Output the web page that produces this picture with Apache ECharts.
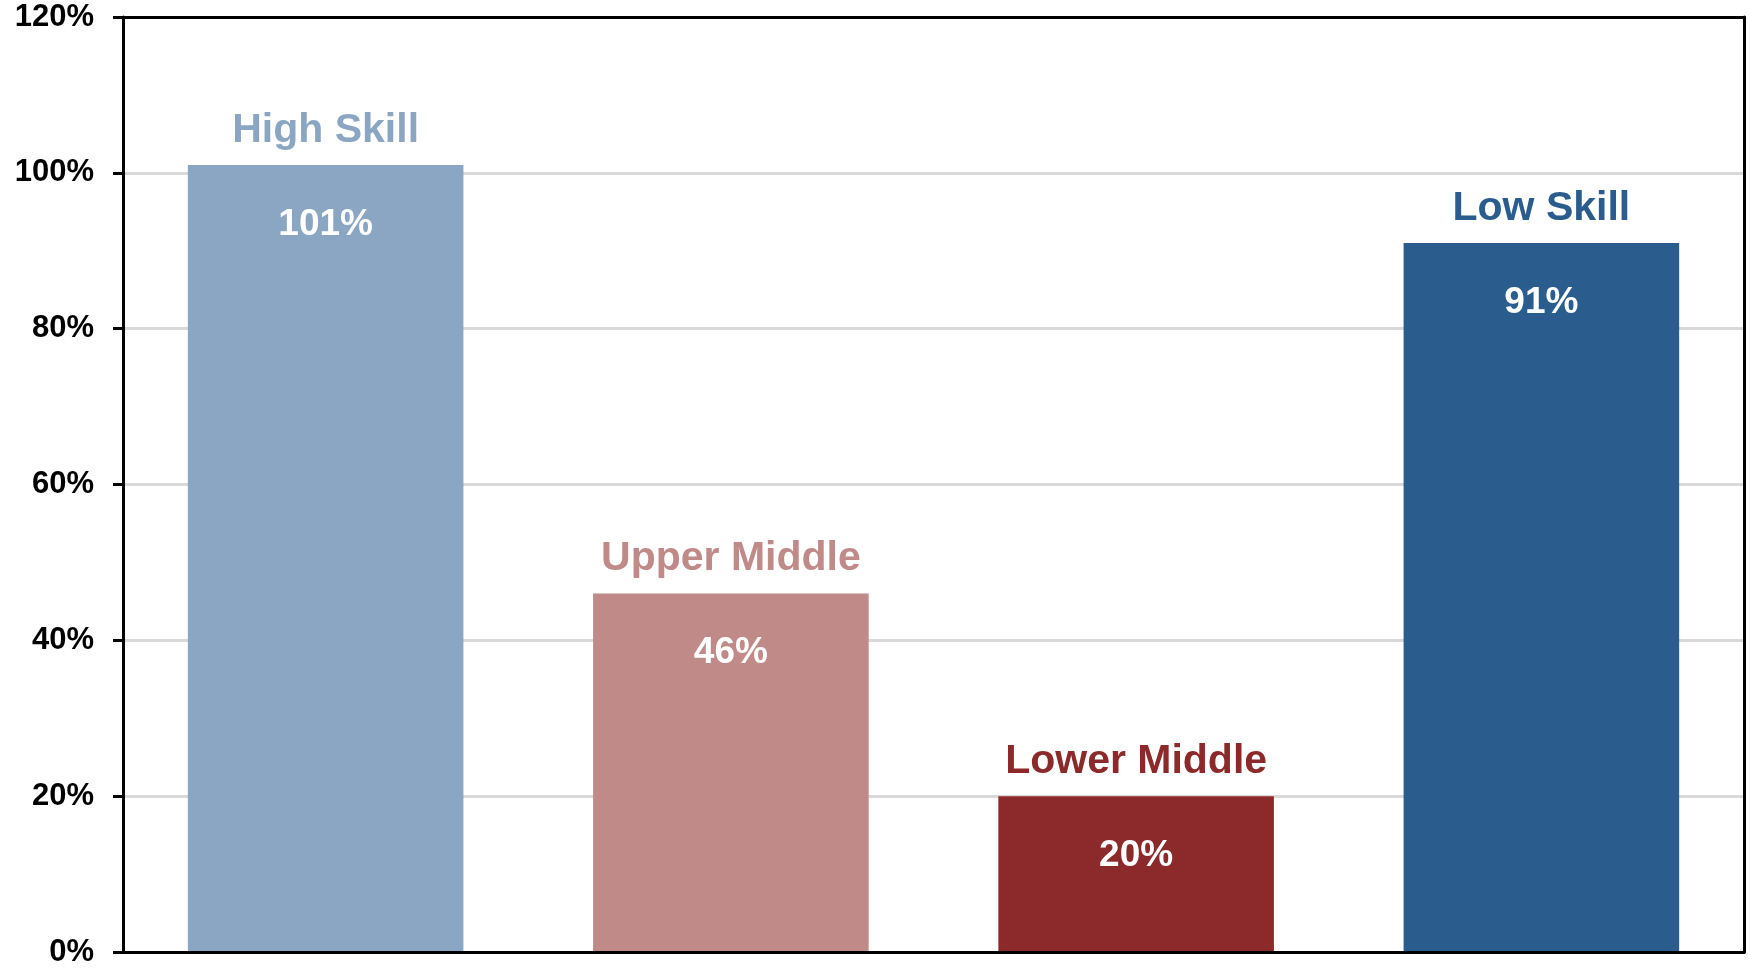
<!DOCTYPE html>
<html>
<head>
<meta charset="utf-8">
<title>Skill groups</title>
<script src="https://cdn.jsdelivr.net/npm/echarts@6/dist/echarts.min.js"></script>
<style>
  html, body { margin: 0; padding: 0; background: #ffffff; }
  #chart { width: 1750px; height: 968px; }
</style>
</head>
<body>
<div id="chart"></div>
<script>
// Skill groups and their percentage values
const categories = ['High Skill', 'Upper Middle', 'Lower Middle', 'Low Skill'];
const values = [101, 46, 20, 91];
const barColors = ['#8BA6C2', '#C08A89', '#8C2A2B', '#2A5C8D'];
const yTicks = { min: 0, max: 120, interval: 20 };

const FONT = '"Liberation Sans", Arial, sans-serif';
const frameLine = { show: true, onZero: false, lineStyle: { color: '#000000', width: 3 } };

const chart = echarts.init(document.getElementById('chart'), null, { renderer: 'canvas' });

chart.setOption({
  animation: false,
  backgroundColor: '#ffffff',
  grid: { left: 123, right: 6, top: 17, bottom: 16 },
  xAxis: [
    {
      type: 'category',
      data: categories,
      axisLine: frameLine,
      axisTick: { show: false },
      axisLabel: { show: false },
      splitLine: { show: false },
      z: 5
    },
    {
      // top edge of the frame
      type: 'category',
      position: 'top',
      data: categories,
      axisLine: frameLine,
      axisTick: { show: false },
      axisLabel: { show: false },
      splitLine: { show: false },
      z: 5
    }
  ],
  yAxis: [
    {
      type: 'value',
      min: yTicks.min, max: yTicks.max, interval: yTicks.interval,
      axisLine: frameLine,
      axisTick: { show: true, length: 10, lineStyle: { color: '#000000', width: 3 } },
      axisLabel: {
        formatter: '{value}%', color: '#000000',
        fontFamily: FONT, fontWeight: 'bold', fontSize: 31, margin: 29
      },
      splitLine: { show: true, lineStyle: { color: '#D9D9D9', width: 3 } }
    },
    {
      // right edge of the frame
      type: 'value',
      position: 'right',
      min: yTicks.min, max: yTicks.max, interval: yTicks.interval,
      axisLine: frameLine,
      axisTick: { show: false },
      axisLabel: { show: false },
      splitLine: { show: false },
      z: 5
    }
  ],
  series: [
    {
      // filled bars with the value printed inside near the top
      type: 'bar',
      barWidth: '68%',
      z: 2,
      data: values.map((v, i) => ({ value: v, itemStyle: { color: barColors[i] } })),
      label: {
        show: true, position: 'insideTop', distance: 41,
        formatter: p => p.value + '%',
        color: '#ffffff', fontFamily: FONT, fontWeight: 'bold', fontSize: 37
      }
    },
    {
      // transparent twin bars carrying the group name above each bar
      type: 'bar',
      barWidth: '68%',
      barGap: '-100%',
      z: 3,
      data: values.map((v, i) => ({
        value: v,
        itemStyle: { color: 'rgba(0,0,0,0)' },
        label: { color: barColors[i] }
      })),
      label: {
        show: true, position: 'top', distance: 14,
        formatter: p => categories[p.dataIndex],
        fontFamily: FONT, fontWeight: 'bold', fontSize: 41
      }
    }
  ]
});
</script>
</body>
</html>
